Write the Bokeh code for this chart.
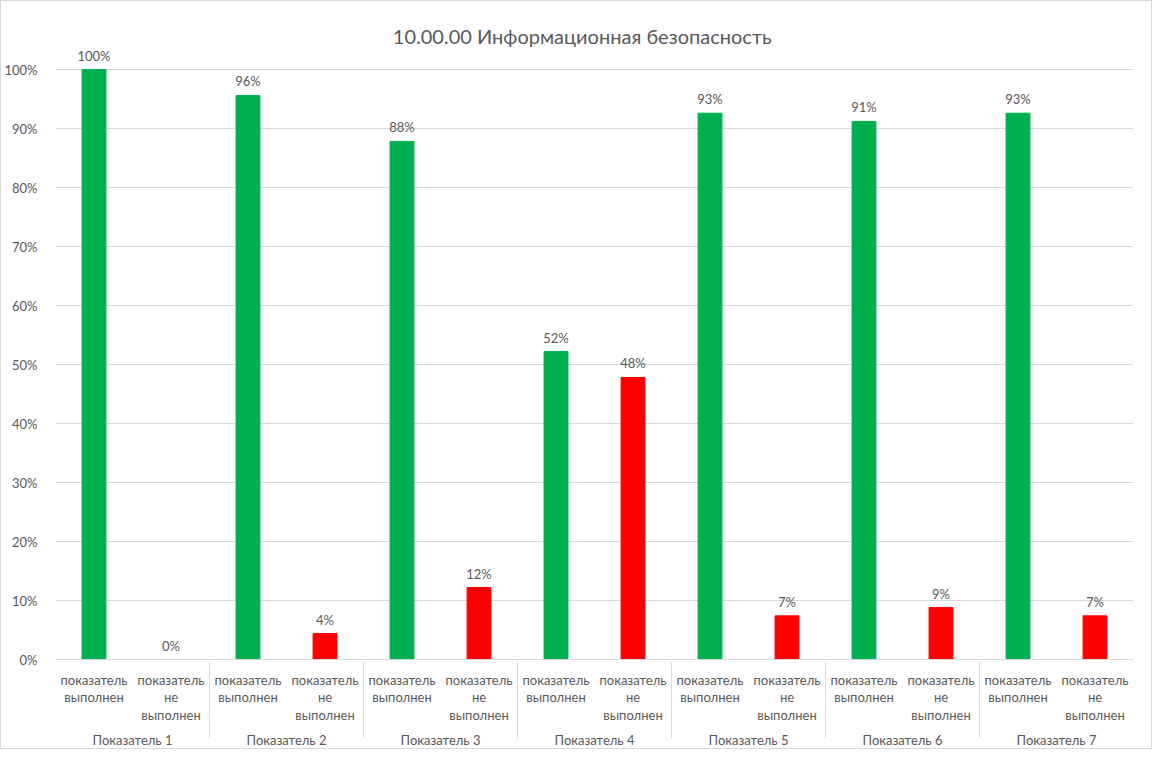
from bokeh.plotting import figure
from bokeh.models import FactorRange, ColumnDataSource, LabelSet, Label, FixedTicker, NumeralTickFormatter, Range1d
from bokeh.core.properties import value
from bokeh.embed import file_html
from bokeh.resources import INLINE

groups = ["Показатель 1", "Показатель 2", "Показатель 3", "Показатель 4",
          "Показатель 5", "Показатель 6", "Показатель 7"]
sub_done = "показатель\nвыполнен"
sub_not = "показатель\nне\nвыполнен"
done_vals = [1.0, 0.956, 0.878, 0.522, 0.926, 0.912, 0.926]
not_vals = [0.0, 0.044, 0.122, 0.478, 0.074, 0.088, 0.074]
title_text = "10.00.00 Информационная безопасность"
green = "#00B050"
red = "#FF0000"
FONT = "Lato"
GRAY = "#595959"
LIGHT = "#d9d9d9"

x, tops, colors, labels = [], [], [], []
for g, d, n in zip(groups, done_vals, not_vals):
    x += [(g, sub_done), (g, sub_not)]
    tops += [d, n]
    colors += [green, red]
    labels += [f"{round(d*100)}%", f"{round(n*100)}%"]

src = ColumnDataSource(dict(x=x, top=tops, color=colors, label=labels))

p = figure(x_range=FactorRange(*x, group_padding=0, range_padding=0),
           y_range=Range1d(0, 1.1), width=1152, height=749,
           output_backend="svg", toolbar_location=None,
           min_border_left=47, min_border_right=20, min_border_top=9, min_border_bottom=87)

p.vbar(x="x", top="top", width=0.31, color="color", source=src)

p.add_layout(LabelSet(x="x", y="top", text="label", source=src, text_align="center",
                      text_baseline="bottom", y_offset=6, text_font=value(FONT),
                      text_font_size="13px", text_color=GRAY))

p.add_layout(Label(x=6.84, y=1.056, text=title_text, text_align="center",
                   text_baseline="middle", text_font=FONT,
                   text_font_size="20px", text_color=GRAY))

p.outline_line_color = None
p.xgrid.grid_line_color = None
p.ygrid.grid_line_color = LIGHT
p.ygrid.ticker = FixedTicker(ticks=[i/10 for i in range(11)])

p.yaxis.ticker = FixedTicker(ticks=[i/10 for i in range(11)])
p.yaxis.formatter = NumeralTickFormatter(format="0%")
p.yaxis.axis_line_color = None
p.yaxis.major_tick_line_color = None
p.yaxis.minor_tick_line_color = None
p.yaxis.major_label_text_font = FONT
p.yaxis.major_label_text_font_size = "13px"
p.yaxis.major_label_text_color = GRAY
p.yaxis.major_label_standoff = 12

p.xaxis.axis_line_color = LIGHT
p.xaxis.major_tick_line_color = None
p.xaxis.minor_tick_line_color = None
p.xaxis.major_label_text_font = FONT
p.xaxis.major_label_text_font_size = "13px"
p.xaxis.major_label_text_color = GRAY
p.xaxis.major_label_text_line_height = 1.1
p.xaxis.major_label_standoff = 6
p.xaxis.group_text_font = FONT
p.xaxis.group_text_font_size = "13px"
p.xaxis.group_text_color = GRAY
p.xaxis.group_text_font_style = "normal"
p.xaxis.separator_line_color = LIGHT
p.xaxis.separator_line_width = 1

p.styles = {"border": "1px solid #d9d9d9"}

open("out.html", "w").write(file_html(p, INLINE))
